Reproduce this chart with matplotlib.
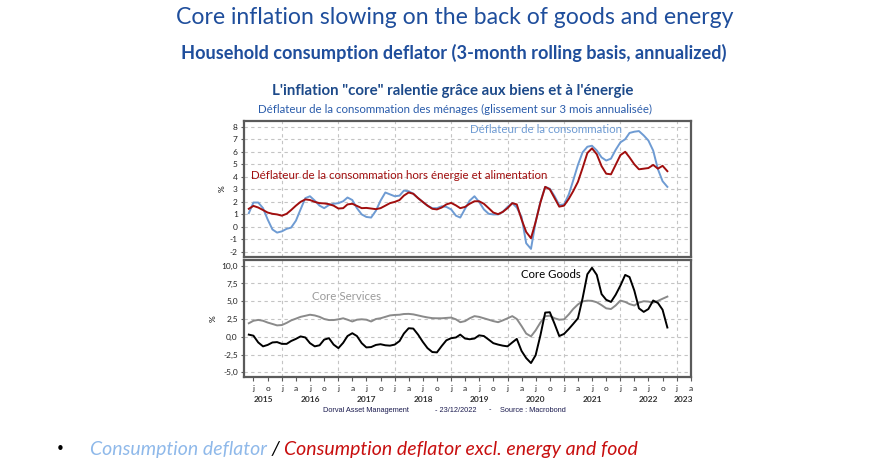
import matplotlib
matplotlib.use("Agg")
import matplotlib.pyplot as plt
import matplotlib.dates as mdates
import matplotlib.transforms as mtransforms
from matplotlib.ticker import FuncFormatter, MultipleLocator
import pandas as pd

plt.rcParams["axes.unicode_minus"] = False

# monthly observations, Jun 2015 -> Nov 2022
months = pd.date_range("2015-06-01", "2022-11-01", freq="MS")

# household consumption deflator, 3m annualized (%)
pce = [1.1, 1.95, 1.95, 1.5, 0.6, -0.2, -0.45, -0.35, -0.15, -0.05,
       0.5, 1.4, 2.3, 2.45, 2.1, 1.7, 1.5, 1.75, 1.85, 1.9,
       2.05, 2.35, 2.15, 1.5, 1.0, 0.8, 0.75, 1.3, 2.1, 2.75,
       2.6, 2.45, 2.5, 2.9, 2.85, 2.65, 2.3, 2.0, 1.7, 1.5,
       1.5, 1.65, 1.6, 1.4, 0.9, 0.75, 1.45, 2.1, 2.45, 2.0,
       1.4, 1.05, 1.0, 1.0, 1.2, 1.6, 1.9, 1.55, 0.8, -1.3,
       -1.75, 0.4, 2.0, 3.2, 3.05, 2.45, 1.75, 1.8, 2.6, 3.7,
       4.95, 5.95, 6.4, 6.48, 6.1, 5.55, 5.3, 5.45, 6.15, 6.75,
       7.0, 7.5, 7.6, 7.65, 7.3, 6.9, 6.1, 4.6, 3.65, 3.2]

# deflator excl. energy and food (%)
pce_core = [1.45, 1.68, 1.55, 1.35, 1.15, 1.05, 1.0, 0.9, 1.05, 1.35,
            1.7, 2.0, 2.2, 2.15, 2.0, 1.9, 1.88, 1.82, 1.7, 1.47,
            1.5, 1.8, 1.85, 1.68, 1.5, 1.52, 1.47, 1.42, 1.5, 1.7,
            1.9, 2.0, 2.15, 2.5, 2.75, 2.65, 2.3, 2.0, 1.7, 1.45,
            1.4, 1.55, 1.8, 1.92, 1.72, 1.5, 1.6, 1.85, 2.05, 2.05,
            1.85, 1.5, 1.15, 1.02, 1.2, 1.5, 1.9, 1.8, 0.6, -0.4,
            -0.9, 0.4, 1.95, 3.2, 3.0, 2.3, 1.62, 1.7, 2.25, 2.85,
            3.6, 4.7, 5.9, 6.27, 5.8, 4.85, 4.25, 4.2, 4.95, 5.73,
            6.0, 5.55, 5.0, 4.6, 4.65, 4.7, 4.95, 4.65, 4.88, 4.45]

core_services = [1.9, 2.25, 2.37, 2.25, 2.0, 1.8, 1.6, 1.65, 1.95, 2.3,
                 2.55, 2.8, 2.95, 3.1, 3.0, 2.8, 2.5, 2.35, 2.35, 2.45,
                 2.6, 2.4, 2.15, 2.4, 2.46, 2.4, 2.15, 2.5, 2.6, 2.8,
                 3.0, 3.07, 3.1, 3.2, 3.22, 3.15, 3.0, 2.85, 2.72, 2.62,
                 2.6, 2.6, 2.65, 2.7, 2.45, 2.05, 2.2, 2.6, 2.9, 2.8,
                 2.6, 2.4, 2.2, 2.05, 2.3, 2.6, 2.9, 2.5, 1.5, 0.45,
                 0.05, 0.9, 2.0, 2.9, 2.95, 2.6, 2.4, 2.45, 3.15, 3.9,
                 4.55, 4.98, 5.08, 5.05, 4.85, 4.45, 4.0, 3.9, 4.4, 5.09,
                 4.9, 4.6, 4.4, 4.8, 5.0, 4.95, 4.8, 5.05, 5.35, 5.65]

core_goods = [0.3, 0.15, -0.8, -1.35, -1.15, -0.8, -0.75, -1.0, -1.0, -0.6,
              -0.3, 0.05, -0.1, -0.9, -1.35, -1.2, -0.4, -0.2, -1.1, -1.6,
              -0.85, 0.1, 0.5, 0.1, -0.9, -1.5, -1.45, -1.15, -1.05, -1.2,
              -1.25, -1.1, -0.6, 0.45, 1.2, 1.15, 0.3, -0.7, -1.6, -2.15,
              -2.2, -1.3, -0.5, -0.2, -0.1, 0.3, -0.25, -0.35, -0.25, 0.2,
              0.1, -0.4, -0.9, -1.1, -1.25, -1.35, -0.8, -0.3, -2.0, -3.0,
              -3.7, -2.6, 0.2, 3.4, 3.45, 1.8, 0.1, 0.4, 1.1, 1.8,
              2.6, 5.4, 8.8, 9.7, 8.7, 6.0, 5.2, 4.9, 5.9, 7.2,
              8.7, 8.4, 6.5, 4.0, 3.5, 3.9, 5.1, 4.75, 3.8, 1.3]

month_letters = {1: "j", 4: "a", 7: "j", 10: "o"}
years = list(range(2015, 2024))

x_start = pd.Timestamp("2015-05-01")
x_end = pd.Timestamp("2023-04-01")

BLUE = "#6e9bd3"
RED = "#a10e0e"
GREY = "#8a8a8a"
TITLE_BLUE = "#1f4e9c"
FRAME = "#5a5a5a"
FONT = "Lato"

fig = plt.figure(figsize=(8.88, 4.76), dpi=100)
ax1 = fig.add_axes([0.2748, 0.460, 0.503, 0.2857])
ax2 = fig.add_axes([0.2748, 0.208, 0.503, 0.2458])

for ax in (ax1, ax2):
    ax.set_xlim(x_start, x_end)
    ax.xaxis.set_major_locator(mdates.MonthLocator(bymonth=[1, 4, 7, 10]))
    ax.grid(False)
    # vertical dashed lines only at each new year
    for yr in years:
        d = pd.Timestamp(f"{yr}-01-01")
        if x_start < d < x_end:
            ax.axvline(d, color="#c4c4c4", lw=0.8, ls=(0, (3, 3)), zorder=0)
    for s in ax.spines.values():
        s.set_color(FRAME)
        s.set_linewidth(1.6)
    ax.tick_params(axis="y", length=2.5, width=0.8, color=FRAME, pad=2,
                   labelsize=6, labelcolor="#222222")
    ax.yaxis.grid(True, color="#c4c4c4", lw=0.8, ls=(0, (3, 3)))
    ax.set_axisbelow(True)
    for lab in ax.get_yticklabels():
        lab.set_fontfamily(FONT)

# top panel
ax1.plot(months, pce, color=BLUE, lw=1.4, zorder=3)
ax1.plot(months, pce_core, color=RED, lw=1.4, zorder=4)
ax1.set_ylim(-2.4, 8.45)
ax1.yaxis.set_major_locator(MultipleLocator(1))
ax1.yaxis.set_major_formatter(FuncFormatter(lambda v, p: f"{v:.0f}"))
ax1.tick_params(axis="x", length=0, labelbottom=False)
ax1.set_ylabel("%", fontsize=6, labelpad=3, family=FONT)
ax1.text(0.506, 0.94, "Déflateur de la consommation", transform=ax1.transAxes,
         color=BLUE, fontsize=8.3, family=FONT, ha="left", va="center")
ax1.text(0.016, 0.60, "Déflateur de la consommation hors énergie et alimentation",
         transform=ax1.transAxes, color=RED, fontsize=8.3, family=FONT,
         ha="left", va="center")

# bottom panel
ax2.plot(months, core_services, color=GREY, lw=1.4, zorder=3)
ax2.plot(months, core_goods, color="black", lw=1.4, zorder=4)
ax2.set_ylim(-5.66, 10.8)
ax2.yaxis.set_major_locator(MultipleLocator(2.5))
ax2.yaxis.set_major_formatter(FuncFormatter(lambda v, p: f"{v:.1f}".replace(".", ",")))
ax2.set_ylabel("%", fontsize=6, labelpad=3, family=FONT)
ax2.text(0.152, 0.684, "Core Services", transform=ax2.transAxes,
         color="#9a9a9a", fontsize=8.3, family=FONT, ha="left", va="center")
ax2.text(0.620, 0.880, "Core Goods", transform=ax2.transAxes,
         color="black", fontsize=8.2, family=FONT, ha="left", va="center")

ax2.xaxis.set_major_formatter(FuncFormatter(
    lambda v, p: month_letters.get(mdates.num2date(v).month, "")))
ax2.tick_params(axis="x", length=3, width=0.8, color=FRAME, pad=3,
                labelsize=6, labelcolor="#222222")
for lab in ax2.get_xticklabels():
    lab.set_fontfamily(FONT)

# year labels centred on the visible part of each year
trans = mtransforms.blended_transform_factory(ax2.transData, ax2.transAxes)
for yr in years:
    a = max(pd.Timestamp(f"{yr}-01-01"), x_start)
    b = min(pd.Timestamp(f"{yr + 1}-01-01"), x_end)
    mid = a + (b - a) / 2
    ax2.text(mid, -0.19, str(yr), transform=trans, fontsize=6, family=FONT,
             weight="bold", color="#333333", ha="center", va="center")

# titles
fig.text(0.512, 1 - 18 / 476, "Core inflation slowing on the back of goods and energy",
         color=TITLE_BLUE, fontsize=16.6, family=FONT, ha="center", va="center")
fig.text(0.511, 1 - 53 / 476,
         "Household consumption deflator (3-month rolling basis, annualized)",
         color=TITLE_BLUE, fontsize=13.1, family=FONT, weight="bold",
         ha="center", va="center")
fig.text(0.510, 1 - 91 / 476,
         "L'inflation \"core\" ralentie grâce aux biens et à l'énergie",
         color="#1d4a8a", fontsize=10.8, family=FONT, weight="bold",
         ha="center", va="center")
fig.text(0.512, 1 - 109 / 476,
         "Déflateur de la consommation des ménages (glissement sur 3 mois annualisée)",
         color="#2a5cab", fontsize=8.3, family=FONT, ha="center", va="center")

# source line
foot = dict(fontsize=5.3, family="Liberation Sans", color="#1c1c50", va="center")
fig.text(323 / 888, 1 - 410 / 476, "Dorval Asset Management", ha="left", **foot)
fig.text(435 / 888, 1 - 410 / 476, "- 23/12/2022", ha="left", **foot)
fig.text(489 / 888, 1 - 410 / 476, "-", ha="left", **foot)
fig.text(500 / 888, 1 - 410 / 476, "Source : Macrobond", ha="left", **foot)

# bullet legend below the chart, pieces chained one after another
fig.text(60 / 888, 1 - 450 / 476, "•", fontsize=11, color="black",
         ha="center", va="center")
t1 = fig.text(90 / 888, 1 - 450 / 476, "Consumption deflator", fontsize=14,
              family=FONT, style="italic", color="#8fb9ea", ha="left", va="center")
sep = plt.annotate(" / ", xy=(1, 0), xycoords=t1, fontsize=14, family=FONT,
                   style="italic", color="black", ha="left", va="bottom")
plt.annotate("Consumption deflator excl. energy and food", xy=(1, 0), xycoords=sep,
             fontsize=14, family=FONT, style="italic", color="#c80f0f",
             ha="left", va="bottom")

fig.savefig("out.png", dpi=100)
